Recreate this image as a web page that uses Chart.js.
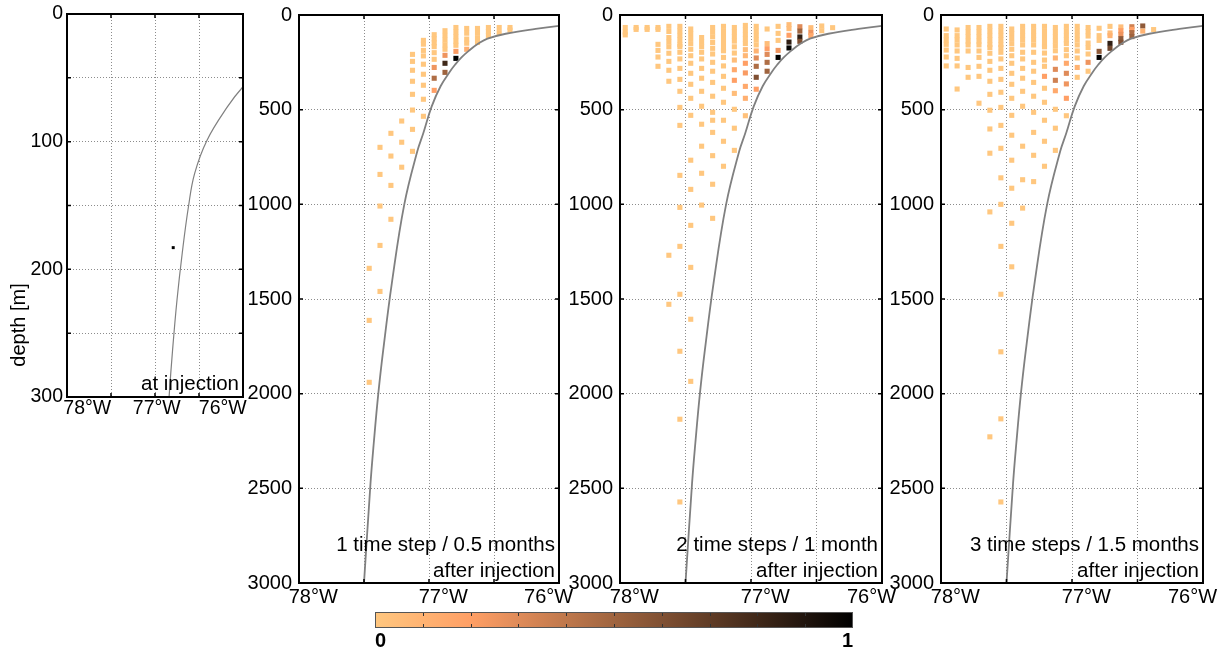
<!DOCTYPE html>
<html><head><meta charset="utf-8">
<script src="https://cdn.jsdelivr.net/npm/chart.js@4.4.0/dist/chart.umd.min.js"></script>
<style>
html,body{margin:0;padding:0;background:#fff;}
#wrap{position:relative;width:1223px;height:650px;overflow:hidden;}
#wrap canvas{position:absolute;left:0;top:0;}
</style></head><body>
<div id="wrap">
<canvas id="p1" width="1223" height="650"></canvas>
<canvas id="p2" width="1223" height="650"></canvas>
<canvas id="p3" width="1223" height="650"></canvas>
<canvas id="p4" width="1223" height="650"></canvas>
<canvas id="cb" width="1223" height="650"></canvas>
</div>
<script>
// ---------- data ----------
const LON_MIN = -78.11, LON_MAX = -76.11;
const xLabels = ['78°W', '77°W', '76°W'];
const xLabelLonInjection = [-77.88, -77.09, -76.34];
const xLabelLonSteps = [-78.0, -77.0, -76.19];
const yTicksShallow = [0, 100, 200, 300];
const yTicksDeep = [0, 500, 1000, 1500, 2000, 2500, 3000];
const colorbarTicks = ['0', '1'];

// longitude of the model columns
const columnLon = [-78.07, -77.987, -77.903, -77.82, -77.737, -77.653, -77.57, -77.487, -77.403, -77.32,
                   -77.237, -77.153, -77.07, -76.987, -76.903, -76.82, -76.737, -76.653, -76.57, -76.487];

// bathymetry profile (grey line)
const curveLon   = [-75.95, -76.11, -76.29, -76.52, -76.66, -76.73, -76.80, -76.86, -76.91, -76.95, -77.02, -77.09, -77.154, -77.20, -77.30, -77.396, -77.462, -77.50, -77.535, -77.56, -77.61, -77.62];
const curveDepth = [47, 57, 73, 99, 125, 151, 187, 224, 263, 300, 375, 484, 625, 720, 1000, 1417, 1769, 2000, 2262, 2474, 3000, 3100];

// cells: [column index, depth (m), normalised concentration]
const injectionCells = [[14, 183, 1]];

const step1Cells = [
 [6,1338,0],[6,1613,0],[6,1940,0],
 [7,699,0],[7,842,0],[7,1009,0],[7,1217,0],[7,1460,0],
 [8,625,0],[8,745,0],[8,900,0],[8,1079,0],
 [9,560,0],[9,672,0],[9,804,0],
 [10,208,0],[10,245,0],[10,292,0],[10,350,0],[10,419,0],[10,502,0],[10,604,0],[10,720,0],
 [11,134,0],[11,154,0],[11,187,0],[11,216,0],[11,260,0],[11,313,0],[11,371,0],[11,445,0],[11,535,0],
 [12,104,0],[12,126,0],[12,147,0],[12,167,0],[12,199,0],[12,234,0],[12,277,0.25],[12,334,0.45],[12,398,0.2],
 [13,83,0],[13,108,0],[13,133,0],[13,158,0],[13,181,0],[13,213,0.25],[13,255,0.8],[13,303,0.5],
 [14,66,0],[14,90,0],[14,114,0],[14,138,0],[14,160,0],[14,192,0.22],[14,229,1],
 [15,71,0],[15,96,0],[15,127,0],[15,149,0],[15,181,0.12],
 [16,71,0],[16,95,0],[16,120,0],[16,145,0],
 [17,66,0],[17,88,0],[17,110,0],
 [18,66,0],[18,93,0],
 [19,66,0],[19,80,0]
];

const step2Cells = [
 [0,66,0],[0,90,0],[0,105,0],
 [1,66,0],[1,76,0],
 [2,66,0],[2,76,0],
 [3,66,0],[3,76,0],[3,155,0],[3,187,0],[3,222,0],[3,271,0],
 [4,60,0],[4,87,0],[4,119,0],[4,143,0],[4,168,0],[4,202,0],[4,245,0],[4,292,0],[4,350,0],[4,1269,0],[4,1528,0],
 [5,60,0],[5,84,0],[5,108,0],[5,132,0],[5,156,0],[5,167,0],[5,197,0],[5,232,0],[5,282,0],[5,340,0],[5,403,0],[5,488,0],[5,583,0],[5,847,0],[5,1016,0],[5,1222,0],[5,1475,0],[5,1776,0],[5,2135,0],[5,2572,0],
 [6,74,0],[6,98,0],[6,124,0],[6,151,0],[6,181,0],[6,215,0],[6,255,0],[6,308,0],[6,366,0],[6,440,0],[6,530,0],[6,767,0],[6,921,0],[6,1111,0],[6,1333,0],[6,1607,0],[6,1935,0],
 [7,119,0],[7,143,0],[7,167,0],[7,197,0],[7,232,0],[7,282,0],[7,334,0],[7,403,0],[7,482,0],[7,577,0],[7,693,0],[7,836,0],[7,1004,0],
 [8,66,0],[8,90,0],[8,115,0],[8,145,0],[8,176,0],[8,206,0],[8,250,0],[8,297,0],[8,356,0],[8,429,0],[8,514,0],[8,556,0],[8,620,0],[8,743,0],[8,894,0],[8,1074,0],
 [9,60,0],[9,84,0],[9,108,0],[9,132,0],[9,156,0],[9,180,0],[9,189,0],[9,224,0],[9,269,0],[9,324,0],[9,387,0],[9,461,0],[9,556,0],[9,667,0],[9,799,0],
 [10,66,0],[10,90,0],[10,114,0],[10,138,0],[10,168,0],[10,201,0],[10,238,0.05],[10,289,0.15],[10,345,0.2],[10,414,0.05],[10,498,0],[10,598,0],[10,715,0],
 [11,55,0],[11,79,0],[11,103,0],[11,127,0],[11,151,0],[11,183,0.05],[11,215,0.08],[11,255,0.2],[11,306,0.22],[11,377,0.15],[11,440,0.12],[11,532,0.03],
 [12,60,0],[12,84,0],[12,108,0],[12,132,0],[12,158,0],[12,190,0.1],[12,227,0.3],[12,271,0.45],[12,329,0.6],[12,392,0.2],
 [13,74,0],[13,151,0.05],[13,178,0.2],[13,208,0.3],[13,250,0.45],[13,297,0.5],
 [14,60,0],[14,97,0],[14,134,0],[14,187,0.25],[14,224,1],
 [15,51,0.05],[15,72,0.05],[15,107,0.2],[15,143,0.85],[15,174,0.98],
 [16,62,0.3],[16,85,0.5],[16,116,0.85],[16,139,0.6],
 [17,67,0.05],[17,92,0.25],[17,109,0.15],
 [18,58,0],[18,83,0],
 [19,67,0]
];

const step3Cells = [
 [0,74,0],[0,109,0],[0,132,0],[0,155,0],[0,185,0],[0,222,0],[0,269,0],
 [1,79,0],[1,109,0],[1,132,0],[1,158,0],[1,190,0],[1,229,0],[1,269,0],[1,391,0],
 [2,66,0],[2,90,0],[2,114,0],[2,138,0],[2,158,0],[2,190,0],[2,277,0],[2,329,0],
 [3,66,0],[3,90,0],[3,114,0],[3,138,0],[3,158,0],[3,190,0],[3,224,0],[3,271,0],[3,324,0],[3,466,0],
 [4,60,0],[4,84,0],[4,108,0],[4,132,0],[4,156,0],[4,172,0],[4,202,0],[4,245,0],[4,292,0],[4,350,0],[4,419,0],[4,503,0],[4,602,0],[4,730,0],[4,1040,0],[4,2228,0],
 [5,60,0],[5,84,0],[5,108,0],[5,132,0],[5,156,0],[5,172,0],[5,197,0],[5,232,0],[5,282,0],[5,340,0],[5,408,0],[5,488,0],[5,583,0],[5,704,0],[5,860,0],[5,1000,0],[5,1222,0],[5,1475,0],[5,1779,0],[5,2133,0],[5,2572,0],
 [6,74,0],[6,98,0],[6,124,0],[6,151,0],[6,181,0],[6,215,0],[6,255,0],[6,308,0],[6,366,0],[6,440,0],[6,530,0],[6,635,0],[6,767,0],[6,915,0],[6,1100,0],[6,1330,0],
 [7,60,0],[7,84,0],[7,108,0],[7,132,0],[7,158,0],[7,197,0],[7,232,0],[7,282,0],[7,334,0],[7,403,0],[7,482,0],[7,693,0],[7,870,0],[7,1020,0],
 [8,60,0],[8,84,0],[8,108,0],[8,132,0],[8,158,0],[8,197,0],[8,250,0],[8,297,0],[8,356,0],[8,429,0],[8,514,0],[8,620,0],[8,741,0],[8,880,0],
 [9,60,0],[9,84,0],[9,108,0],[9,132,0],[9,156,0],[9,168,0],[9,201,0],[9,238,0],[9,271,0],[9,324,0.2],[9,387,0],[9,461,0],[9,556,0],[9,667,0],[9,799,0],
 [10,66,0],[10,90,0],[10,114,0],[10,138,0],[10,162,0],[10,189,0],[10,227,0.1],[10,287,0.3],[10,345,0.35],[10,400,0.15],[10,498,0],[10,598,0],[10,715,0],
 [11,60,0],[11,84,0],[11,108,0],[11,132,0],[11,151,0],[11,183,0],[11,215,0],[11,255,0.15],[11,308,0.3],[11,364,0.25],[11,440,0.2],[11,532,0],
 [12,60,0],[12,84,0],[12,108,0],[12,132,0],[12,158,0],[12,190,0],[12,227,0],[12,277,0.1],[12,329,0],
 [13,66,0],[13,88,0],[13,111,0],[13,148,0],[13,172,0],[13,206,0],[13,250,0.25],[13,297,0],
 [14,70,0],[14,109,0],[14,134,0],[14,192,0.55],[14,224,1],
 [15,60,0],[15,95,0.05],[15,109,0.1],[15,150,0.85],[15,176,0.65],
 [16,63,0.05],[16,83,0.2],[16,102,0.25],[16,125,0.55],[16,144,0.6],
 [17,62,0.35],[17,76,0.2],[17,93,0.45],[17,114,0.5],
 [18,58,0.55],[18,85,0.1],
 [19,77,0]
];

// ---------- helpers ----------
const FONT = '"Liberation Sans", Arial, Helvetica, sans-serif';
function copperRev(v) {
  const x = 1 - Math.max(0, Math.min(1, v));
  return 'rgb(' + Math.round(255 * Math.min(1, 1.25 * x)) + ',' + Math.round(255 * 0.7812 * x) + ',' + Math.round(255 * 0.4975 * x) + ')';
}
const curvePts = curveLon.map((lon, i) => ({x: lon, y: curveDepth[i]}));

const framePlugin = {
  id: 'frame',
  afterDraw(chart, args, opts) {
    const ctx = chart.ctx, a = chart.chartArea;
    const xs = chart.scales.x, ys = chart.scales.y;
    ctx.save();
    ctx.strokeStyle = '#000';
    ctx.lineWidth = 1.5;
    const L = 4;
    xs.ticks.forEach(t => {
      const p = xs.getPixelForValue(t.value);
      if (p <= a.left + 1 || p >= a.right - 1) return;
      ctx.beginPath(); ctx.moveTo(p, a.top); ctx.lineTo(p, a.top + L);
      ctx.moveTo(p, a.bottom); ctx.lineTo(p, a.bottom - L); ctx.stroke();
    });
    ys.ticks.forEach(t => {
      const p = ys.getPixelForValue(t.value);
      if (p <= a.top + 1 || p >= a.bottom - 1) return;
      ctx.beginPath(); ctx.moveTo(a.left, p); ctx.lineTo(a.left + L, p);
      ctx.moveTo(a.right, p); ctx.lineTo(a.right - L, p); ctx.stroke();
    });
    ctx.lineWidth = 2;
    ctx.strokeRect(a.left, a.top, a.right - a.left, a.bottom - a.top);
    ctx.fillStyle = '#000';
    ctx.font = '20.5px ' + FONT;
    ctx.textAlign = 'right';
    ctx.textBaseline = 'middle';
    (opts.lines || []).forEach((s, i) => ctx.fillText(s, a.right - 4, a.bottom - opts.offsets[i]));
    if (opts.yTitle) {
      ctx.translate(opts.yTitle.x, opts.yTitle.y);
      ctx.rotate(-Math.PI / 2);
      ctx.textAlign = 'center';
      ctx.font = '20px ' + FONT;
      ctx.fillText(opts.yTitle.text, 0, 0);
    }
    ctx.restore();
  }
};

function makePanel(id, cells, cfg) {
  const yTickVals = cfg.yTicks;
  return new Chart(document.getElementById(id), {
    type: 'scatter',
    data: {
      datasets: [
        {type: 'line', data: curvePts, borderColor: '#808080', borderWidth: cfg.curveWidth,
         pointRadius: 0, tension: 0.4, fill: false},
        {data: cells.map(c => ({x: columnLon[c[0]], y: c[1], v: c[2]})),
         pointStyle: 'rect', pointRadius: cfg.rad, pointHoverRadius: cfg.rad, borderWidth: 0,
         backgroundColor: ctx => copperRev(ctx.raw ? ctx.raw.v : 0)}
      ]
    },
    options: {
      responsive: false, animation: false, events: [],
      layout: {padding: {left: cfg.left - cfg.yW, top: cfg.top, right: 1223 - cfg.right, bottom: 650 - cfg.bottom - cfg.xH}},
      plugins: {legend: {display: false}, tooltip: {enabled: false},
        frame: {lines: cfg.lines, offsets: cfg.offsets, yTitle: cfg.yTitle}},
      scales: {
        x: {type: 'linear', position: 'bottom', min: LON_MIN, max: LON_MAX, weight: 0,
            afterBuildTicks: s => { s.ticks = [0, 1, 2, 3, 4].map(k => ({value: LON_MIN + k * (LON_MAX - LON_MIN) / 4})); },
            ticks: {display: false},
            grid: {color: '#8c8c8c', lineWidth: 1, drawTicks: false},
            border: {display: false, dash: [1, 2]},
            afterFit: s => { s.height = 0; s.paddingLeft = 0; s.paddingRight = 0; }},
        xl: {type: 'linear', position: 'bottom', min: LON_MIN, max: LON_MAX, weight: 1,
            afterBuildTicks: s => { s.ticks = cfg.xLabelLon.map(v => ({value: v})); },
            ticks: {autoSkip: false, maxRotation: 0, minRotation: 0, color: '#000', padding: cfg.xPad,
                    font: {family: FONT, size: cfg.font}, callback: (v, i) => xLabels[i]},
            grid: {display: false, drawTicks: false},
            border: {display: false},
            afterFit: s => { s.height = cfg.xH; s.paddingLeft = 0; s.paddingRight = 0; }},
        y: {type: 'linear', reverse: true, min: 0, max: cfg.ymax,
            afterBuildTicks: s => { s.ticks = cfg.gridDepths.map(v => ({value: v})); },
            ticks: {autoSkip: false, color: '#000', padding: cfg.yPad, font: {family: FONT, size: cfg.font},
                    callback: v => (yTickVals.indexOf(v) >= 0 ? String(v) : '')},
            grid: {color: '#8c8c8c', lineWidth: 1, drawTicks: false},
            border: {display: false, dash: [1, 2]},
            afterFit: s => { s.width = cfg.yW; s.paddingTop = 0; s.paddingBottom = 0; }}
      }
    },
    plugins: [framePlugin]
  });
}

const deepGrid = [0, 500, 1000, 1500, 2000, 2500, 3000];
const shallowGrid = [0, 50, 100, 150, 200, 250, 300];

makePanel('p1', injectionCells, {left: 67, right: 243, top: 14, bottom: 397, yW: 62, xH: 24, xPad: 0, yPad: 4, font: 19.5,
  ymax: 300, yTicks: yTicksShallow, gridDepths: shallowGrid, xLabelLon: xLabelLonInjection, rad: 2.1, curveWidth: 1.2,
  lines: ['at injection'], offsets: [13], yTitle: {text: 'depth [m]', x: 19, y: 325}});
makePanel('p2', step1Cells, {left: 299, right: 559, top: 15, bottom: 583, yW: 60, xH: 26, xPad: 2, yPad: 7, font: 20,
  ymax: 3000, yTicks: yTicksDeep, gridDepths: deepGrid, xLabelLon: xLabelLonSteps, rad: 3.6, curveWidth: 1.8,
  lines: ['1 time step / 0.5 months', 'after injection'], offsets: [38, 12]});
makePanel('p3', step2Cells, {left: 620, right: 882, top: 15, bottom: 583, yW: 60, xH: 26, xPad: 2, yPad: 7, font: 20,
  ymax: 3000, yTicks: yTicksDeep, gridDepths: deepGrid, xLabelLon: xLabelLonSteps, rad: 3.6, curveWidth: 1.8,
  lines: ['2 time steps / 1 month', 'after injection'], offsets: [38, 12]});
makePanel('p4', step3Cells, {left: 941, right: 1203, top: 15, bottom: 583, yW: 60, xH: 26, xPad: 2, yPad: 7, font: 20,
  ymax: 3000, yTicks: yTicksDeep, gridDepths: deepGrid, xLabelLon: xLabelLonSteps, rad: 3.6, curveWidth: 1.8,
  lines: ['3 time steps / 1.5 months', 'after injection'], offsets: [38, 12]});

// ---------- colour bar ----------
const colorbarPlugin = {
  id: 'cbar',
  beforeDatasetsDraw(chart) {
    const ctx = chart.ctx, a = chart.chartArea, xs = chart.scales.x;
    const x0 = xs.getPixelForValue(0), x1 = xs.getPixelForValue(1);
    const g = ctx.createLinearGradient(x0, 0, x1, 0);
    for (let k = 0; k <= 20; k++) g.addColorStop(k / 20, copperRev(k / 20));
    ctx.save();
    ctx.fillStyle = g;
    ctx.fillRect(x0, a.top, x1 - x0, a.bottom - a.top);
    ctx.strokeStyle = '#333'; ctx.lineWidth = 1;
    xs.ticks.forEach(t => {
      const p = Math.round(xs.getPixelForValue(t.value)) + 0.5;
      if (t.value <= 0 || t.value >= 1) return;
      ctx.beginPath(); ctx.moveTo(p, a.top); ctx.lineTo(p, a.top + 4);
      ctx.moveTo(p, a.bottom); ctx.lineTo(p, a.bottom - 4); ctx.stroke();
    });
    ctx.strokeStyle = '#555';
    ctx.strokeRect(x0 + 0.5, a.top + 0.5, x1 - x0 - 1, a.bottom - a.top - 1);
    ctx.restore();
  }
};
new Chart(document.getElementById('cb'), {
  type: 'scatter',
  data: {datasets: [{data: []}]},
  options: {
    responsive: false, animation: false, events: [],
    layout: {padding: {left: 375, right: 1223 - 853, top: 612, bottom: 650 - 628 - 22}},
    plugins: {legend: {display: false}, tooltip: {enabled: false}},
    scales: {
      x: {type: 'linear', min: 0, max: 1,
          afterBuildTicks: s => { s.ticks = [0,0.1,0.2,0.3,0.4,0.5,0.6,0.7,0.8,0.9,1].map(v => ({value: v})); },
          ticks: {autoSkip: false, maxRotation: 0, align: 'inner', padding: 1, color: '#000',
                  font: {family: FONT, size: 20, weight: 'bold'},
                  callback: v => (v === 0 ? colorbarTicks[0] : (v === 1 ? colorbarTicks[1] : ''))},
          grid: {display: false, drawTicks: false}, border: {display: false},
          afterFit: s => { s.height = 22; s.paddingLeft = 0; s.paddingRight = 0; }},
      y: {display: false, min: 0, max: 1}
    }
  },
  plugins: [colorbarPlugin]
});
</script>
</body></html>
